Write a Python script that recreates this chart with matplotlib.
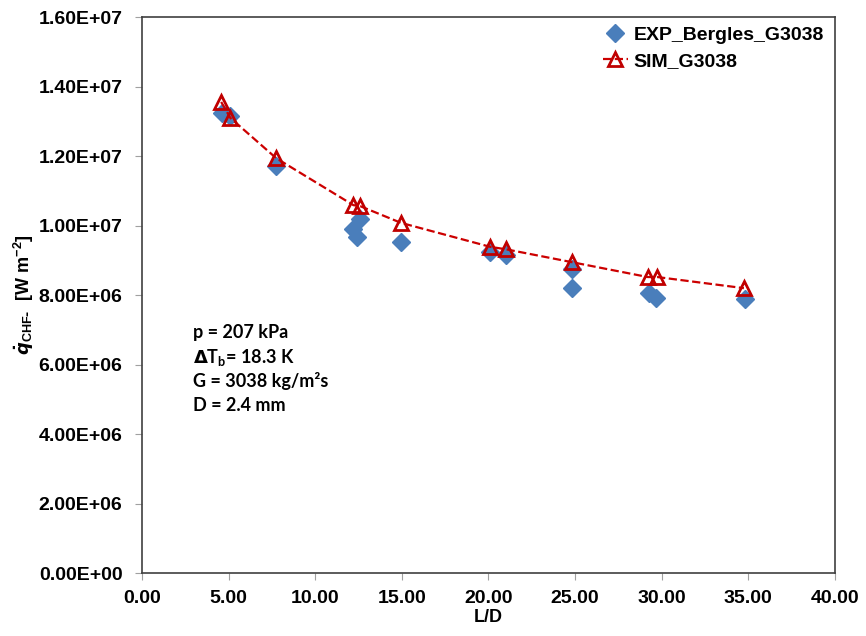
import matplotlib.pyplot as plt
from matplotlib.ticker import FuncFormatter

plt.rcParams['font.family'] = ['Liberation Sans', 'DejaVu Sans']
plt.rcParams['font.weight'] = 'bold'

# experimental data (Bergles, G = 3038)
exp_ld = [4.6, 5.1, 7.75, 12.2, 12.4, 12.6, 14.95, 20.1, 21.0, 24.8, 24.85, 29.25, 29.7, 34.8]
exp_q = [1.324e7, 1.315e7, 1.171e7, 9.9e6, 9.67e6, 1.02e7, 9.52e6, 9.24e6, 9.15e6, 8.75e6, 8.2e6, 8.07e6, 7.91e6, 7.88e6]

# simulation
sim_ld = [4.57, 5.1, 7.75, 12.2, 12.6, 14.95, 20.1, 21.0, 24.8, 29.2, 29.75, 34.75]
sim_q = [1.356e7, 1.31e7, 1.194e7, 1.059e7, 1.056e7, 1.008e7, 9.39e6, 9.32e6, 8.95e6, 8.52e6, 8.52e6, 8.2e6]

notes = ['p = 207 kPa', r'$\Delta$T$_{\mathregular{b}}$= 18.3 K', 'G = 3038 kg/m²s', 'D = 2.4 mm']

fig = plt.figure(figsize=(8.66, 6.36), dpi=100)
ax = fig.add_axes([0.164, 0.099, 0.8, 0.874])

ax.plot(exp_ld, exp_q, linestyle='none', marker='D', markersize=9,
        color='#4a7ebb', label='EXP_Bergles_G3038', zorder=2)
ax.plot(sim_ld, sim_q, linestyle='--', color='#cc0000', linewidth=1.6,
        marker='^', markersize=10.5, markerfacecolor='none', markeredgewidth=2,
        markeredgecolor='#c00000', label='SIM_G3038', zorder=3)

ax.set_xlim(0, 40)
ax.set_ylim(0, 1.6e7)
ax.set_xticks(range(0, 41, 5))
ax.set_yticks([i * 2e6 for i in range(9)])
ax.xaxis.set_major_formatter(FuncFormatter(lambda v, p: '%.2f' % v))
ax.yaxis.set_major_formatter(FuncFormatter(lambda v, p: ('%.2E' % v)))
ax.tick_params(labelsize=14, direction='out', length=5, color='#a0a0a0')
ax.tick_params(axis='y', pad=9)
ax.tick_params(axis='x', pad=7)
for lab in ax.get_xticklabels() + ax.get_yticklabels():
    lab.set_fontweight('bold')
for s in ax.spines.values():
    s.set_color('#404040')
    s.set_linewidth(1.2)

ax.set_xlabel('L/D', fontsize=13, fontweight='bold', labelpad=2)
ax.set_ylabel(r'$\dot{q}$' + r'$_{\mathregular{CHF\text{-}}}$' + '  [W m$^{\mathregular{-2}}$]',
              fontsize=13, fontweight='bold', labelpad=2)

for i, t in enumerate(notes):
    ax.text(0.0736, 0.432 - i * 0.0435, t, transform=ax.transAxes,
            fontsize=13, fontweight='bold', va='center',
            family=['Lato', 'DejaVu Sans'])

ax.legend(loc='upper right', bbox_to_anchor=(0.997, 1.0), frameon=False,
          fontsize=14, handlelength=1.3, handletextpad=0.3,
          borderaxespad=0.05, labelspacing=0.45)

plt.savefig('out.png', dpi=100)
